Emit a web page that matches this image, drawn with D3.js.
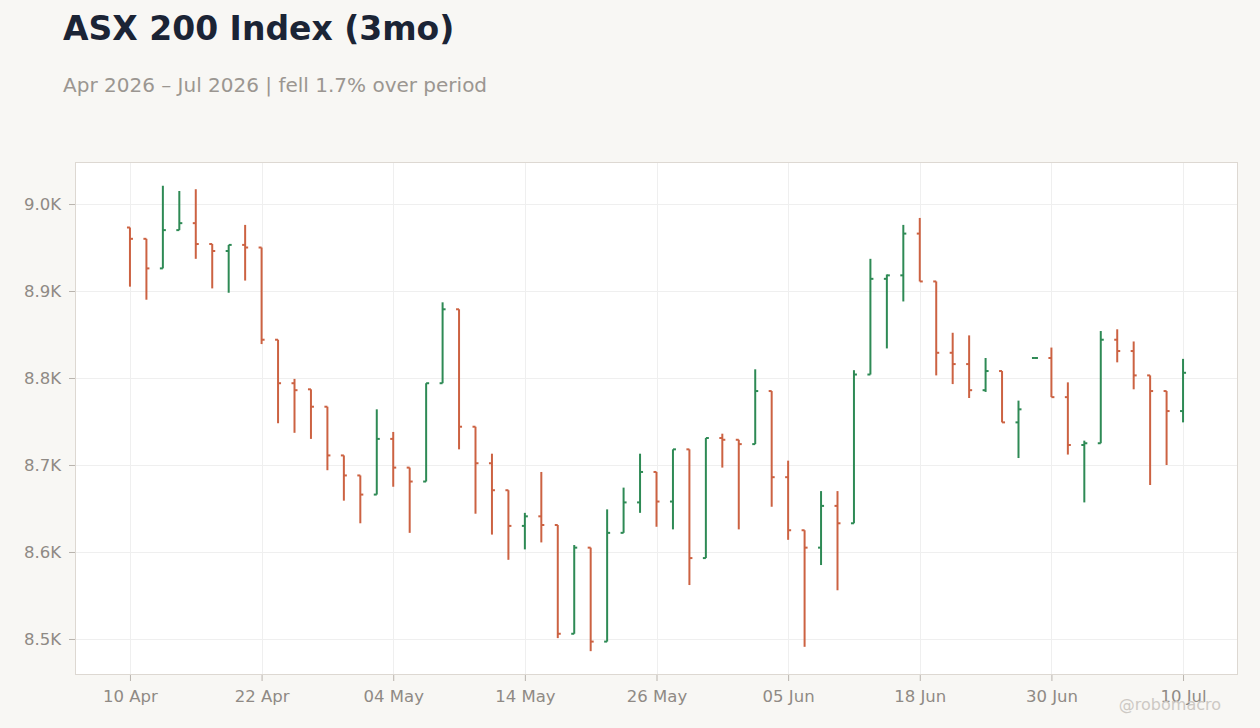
<!DOCTYPE html>
<html>
<head>
  <title>ASX 200 Index (3mo)</title>
  <style type="text/css">
    body {
      margin: 0;
      background: #f8f7f4;
      font-family: "DejaVu Sans", sans-serif;
    }
    svg {
      display: block;
    }
    .tick text {
      fill: #8f8a85;
    }
    .tick line {
      stroke: #b9b4ae;
    }
  </style>
</head>
<body>
  <script type="text/javascript" src="https://cdn.jsdelivr.net/npm/d3@7/dist/d3.min.js"></script>
  <script type="text/javascript">
    // trading days shown (Jun 8 holiday skipped)
    var dates = [
      "2026-04-10","2026-04-13","2026-04-14","2026-04-15","2026-04-16","2026-04-17","2026-04-20","2026-04-21",
      "2026-04-22","2026-04-23","2026-04-24","2026-04-27","2026-04-28","2026-04-29","2026-04-30","2026-05-01",
      "2026-05-04","2026-05-05","2026-05-06","2026-05-07","2026-05-08","2026-05-11","2026-05-12","2026-05-13",
      "2026-05-14","2026-05-15","2026-05-18","2026-05-19","2026-05-20","2026-05-21","2026-05-22","2026-05-25",
      "2026-05-26","2026-05-27","2026-05-28","2026-05-29","2026-06-01","2026-06-02","2026-06-03","2026-06-04",
      "2026-06-05","2026-06-09","2026-06-10","2026-06-11","2026-06-12","2026-06-15","2026-06-16","2026-06-17",
      "2026-06-18","2026-06-19","2026-06-22","2026-06-23","2026-06-24","2026-06-25","2026-06-26","2026-06-29",
      "2026-06-30","2026-07-01","2026-07-02","2026-07-03","2026-07-06","2026-07-07","2026-07-08","2026-07-09",
      "2026-07-10"
    ];

    var opens = [
      8973, 8960, 8926, 8970, 8978, 8954, 8946, 8953, 8950, 8844, 8794, 8787, 8767, 8711, 8688, 8666,
      8730, 8697, 8681, 8794, 8879, 8744, 8702, 8671, 8630, 8641, 8631, 8506, 8605, 8497, 8622, 8657,
      8692, 8658, 8718, 8593, 8731, 8729, 8724, 8785, 8686, 8625, 8605, 8653, 8633, 8804, 8914, 8918,
      8966, 8911, 8829, 8816, 8786, 8808, 8749, 8823, 8823, 8778, 8723, 8725, 8844, 8831, 8803, 8785,
      8762
    ];
    var highs = [
      8973, 8960, 9021, 9015, 9017, 8954, 8953, 8976, 8950, 8844, 8799, 8787, 8767, 8711, 8688, 8764,
      8738, 8697, 8794, 8887, 8879, 8744, 8713, 8671, 8645, 8692, 8631, 8608, 8605, 8649, 8674, 8713,
      8692, 8718, 8718, 8731, 8736, 8729, 8810, 8785, 8705, 8625, 8670, 8670, 8809, 8937, 8919, 8976,
      8984, 8911, 8852, 8849, 8823, 8808, 8774, 8823, 8835, 8795, 8728, 8854, 8856, 8842, 8803, 8785,
      8822
    ];
    var lows = [
      8905, 8890, 8926, 8970, 8937, 8903, 8898, 8912, 8839, 8748, 8737, 8730, 8694, 8659, 8633, 8666,
      8675, 8622, 8681, 8794, 8718, 8644, 8620, 8591, 8603, 8611, 8501, 8506, 8486, 8497, 8622, 8645,
      8629, 8626, 8562, 8593, 8697, 8626, 8724, 8652, 8614, 8491, 8585, 8556, 8633, 8804, 8834, 8888,
      8911, 8803, 8793, 8777, 8784, 8749, 8708, 8823, 8778, 8712, 8657, 8725, 8818, 8787, 8677, 8700,
      8749
    ];
    var closes = [
      8960, 8926, 8970, 8978, 8954, 8946, 8953, 8950, 8844, 8794, 8786, 8767, 8711, 8688, 8666, 8730,
      8697, 8681, 8794, 8879, 8744, 8702, 8671, 8630, 8641, 8631, 8506, 8605, 8497, 8622, 8657, 8692,
      8658, 8718, 8593, 8731, 8729, 8724, 8785, 8686, 8625, 8605, 8653, 8633, 8804, 8914, 8918, 8966,
      8911, 8829, 8816, 8786, 8808, 8749, 8764, 8823, 8778, 8723, 8725, 8844, 8831, 8803, 8785, 8762,
      8806
    ];

    var xTickIdx = [0, 8, 16, 24, 32, 40, 48, 56, 64];
    var xTickLabels = ["10 Apr", "22 Apr", "04 May", "14 May", "26 May", "05 Jun", "18 Jun", "30 Jun", "10 Jul"];
    var yTicks = [8500, 8600, 8700, 8800, 8900, 9000];
    var yDomain = [8458.6, 9048.3];

    var upColor = "#2e8a55";
    var downColor = "#cc6242";

    //Width and height
    var w = 1260;
    var h = 728;
    var margin = {top: 162, right: 22, bottom: 53, left: 75};

    var svg = d3.select("body")
          .append("svg")
          .attr("width", w)
          .attr("height", h);

    // title + subtitle
    svg.append("text")
       .attr("x", 63)
       .attr("y", 40)
       .attr("font-size", 33)
       .attr("font-weight", "bold")
       .attr("fill", "#1b2435")
       .text("ASX 200 Index (3mo)");

    svg.append("text")
       .attr("x", 63)
       .attr("y", 92)
       .attr("font-size", 20)
       .attr("fill", "#9b9691")
       .text("Apr 2026 \u2013 Jul 2026 | fell 1.7% over period");

    var x = d3.scaleLinear()
              .domain([-3.34, dates.length - 1 + 3.34])
              .range([margin.left, w - margin.right]);

    var y = d3.scaleLinear()
              .domain(yDomain)
              .range([h - margin.bottom, margin.top]);

    // plot background
    svg.append("rect")
       .attr("x", margin.left + 0.5)
       .attr("y", margin.top + 0.5)
       .attr("width", w - margin.left - margin.right - 1)
       .attr("height", h - margin.top - margin.bottom - 1)
       .attr("fill", "#ffffff");

    // grid
    var grid = svg.append("g");
    grid.selectAll("line.gy")
        .data(yTicks)
        .enter()
        .append("line")
        .attr("x1", margin.left)
        .attr("x2", w - margin.right)
        .attr("y1", d => Math.round(y(d)) + 0.5)
        .attr("y2", d => Math.round(y(d)) + 0.5)
        .attr("stroke", "#efefef");
    grid.selectAll("line.gx")
        .data(xTickIdx)
        .enter()
        .append("line")
        .attr("x1", d => Math.round(x(d)) + 0.5)
        .attr("x2", d => Math.round(x(d)) + 0.5)
        .attr("y1", margin.top)
        .attr("y2", h - margin.bottom)
        .attr("stroke", "#efefef");

    // frame
    svg.append("rect")
       .attr("x", margin.left + 0.5)
       .attr("y", margin.top + 0.5)
       .attr("width", w - margin.left - margin.right - 1)
       .attr("height", h - margin.top - margin.bottom - 1)
       .attr("fill", "none")
       .attr("stroke", "#ddd8d2");

    // axes
    var yAxis = d3.axisLeft(y)
                  .tickValues(yTicks)
                  .tickSize(6)
                  .tickPadding(8)
                  .tickFormat(d => d3.format(".1f")(d / 1000) + "K");
    svg.append("g")
       .attr("transform", "translate(" + margin.left + ",0)")
       .call(yAxis)
       .attr("font-family", "DejaVu Sans")
       .attr("font-size", 16.5)
       .call(g => g.select(".domain").remove());

    var xAxis = d3.axisBottom(x)
                  .tickValues(xTickIdx)
                  .tickSize(6)
                  .tickPadding(9)
                  .tickFormat((d, i) => xTickLabels[i]);
    svg.append("g")
       .attr("transform", "translate(0," + (h - margin.bottom) + ")")
       .call(xAxis)
       .attr("font-family", "DejaVu Sans")
       .attr("font-size", 16.5)
       .call(g => g.select(".domain").remove());

    // OHLC bars
    var bars = dates.map((d, i) => ({i: i, o: opens[i], h: highs[i], l: lows[i], c: closes[i]}));
    var tick = 3;

    var g = svg.append("g")
               .attr("stroke-width", 2);

    var bar = g.selectAll("g.bar")
               .data(bars)
               .enter()
               .append("g")
               .attr("stroke", d => d.c >= d.o ? upColor : downColor);

    bar.append("line")
       .attr("x1", d => x(d.i))
       .attr("x2", d => x(d.i))
       .attr("y1", d => y(d.h))
       .attr("y2", d => y(d.l));

    bar.append("line")
       .attr("x1", d => x(d.i) - tick)
       .attr("x2", d => x(d.i))
       .attr("y1", d => y(d.o))
       .attr("y2", d => y(d.o));

    bar.append("line")
       .attr("x1", d => x(d.i))
       .attr("x2", d => x(d.i) + tick)
       .attr("y1", d => y(d.c))
       .attr("y2", d => y(d.c));

    // watermark
    svg.append("text")
       .attr("x", 1221)
       .attr("y", 710)
       .attr("text-anchor", "end")
       .attr("font-family", "DejaVu Sans")
       .attr("font-size", 16)
       .attr("fill", "#cdc9c4")
       .text("@robomacro");
  </script>
</body>
</html>
